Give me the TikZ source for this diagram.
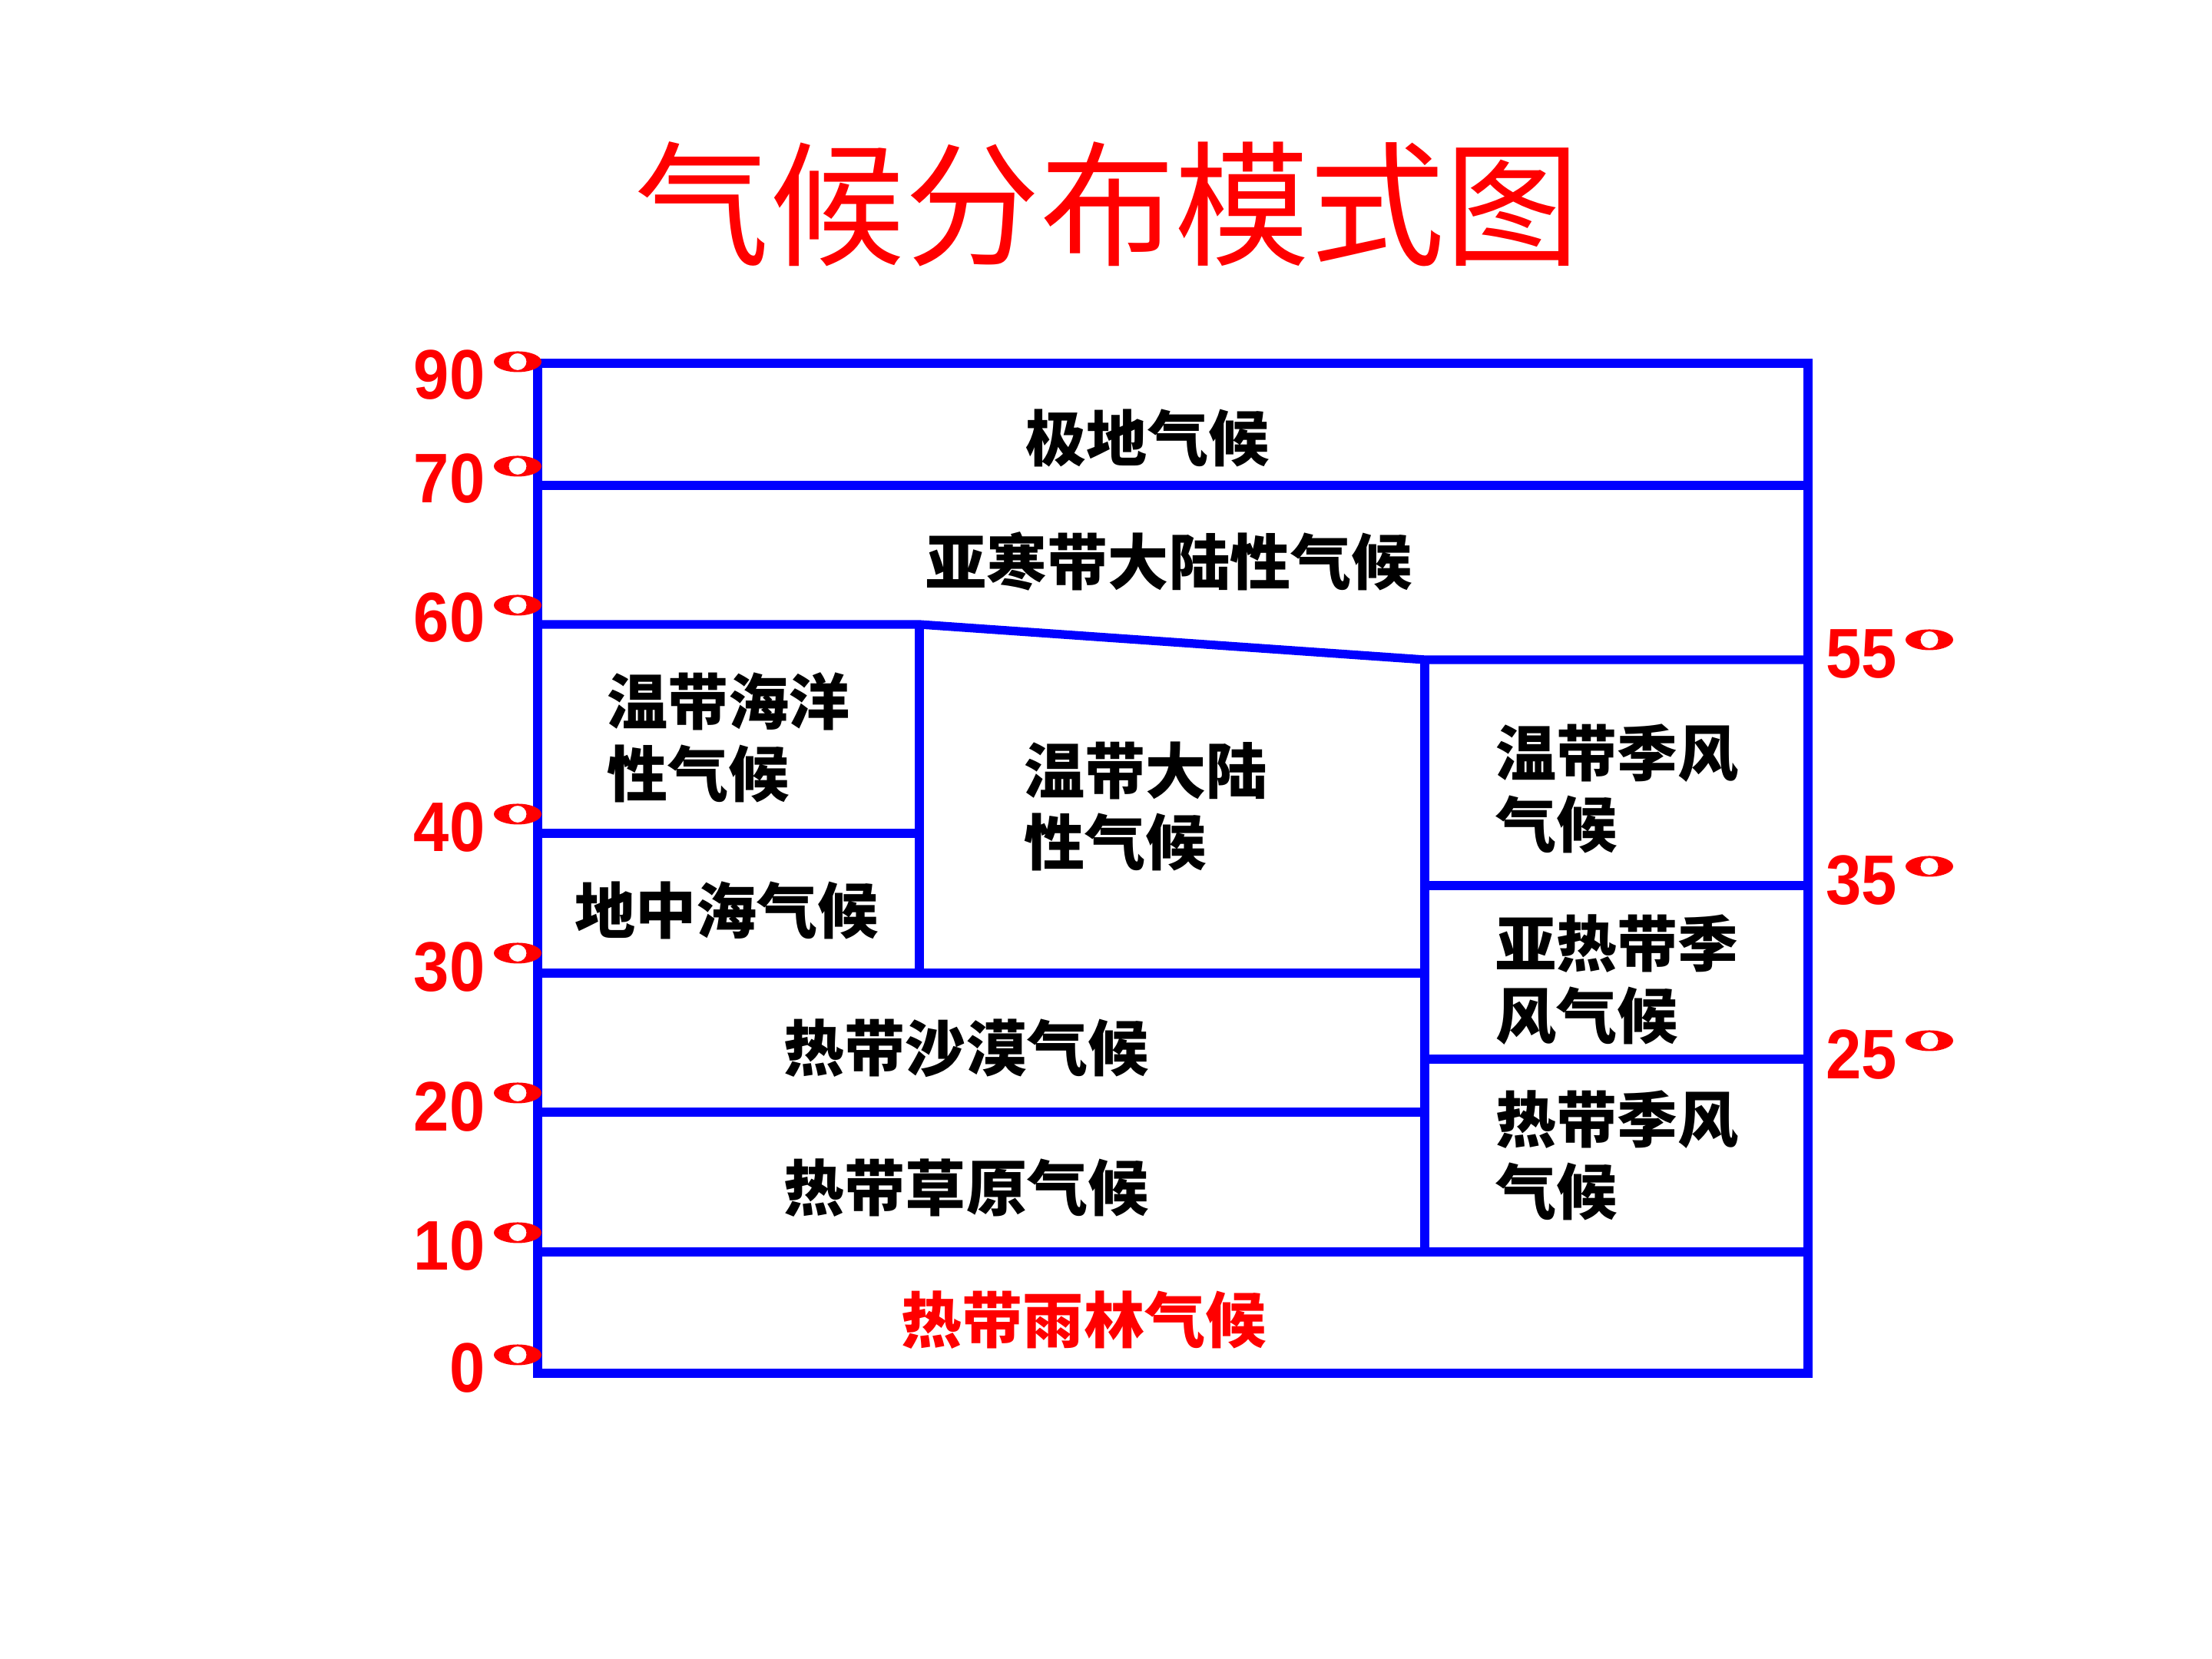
\documentclass[tikz,border=0pt]{standalone}
\usepackage{fontspec}
\usepackage{tikz}
\newfontfamily\cjk{Noto Sans CJK SC}
\newfontfamily\numfont{Liberation Sans}
\tikzstyle{zone} = [draw=blue, line width=3.2pt]
\tikzstyle{zonetxt} = [inner sep=0pt, font=\cjk\bfseries\fontsize{22.5}{26.7}\selectfont]
\tikzstyle{latnum} = [inner sep=0pt, text=red, font=\numfont\bfseries\fontsize{26}{26}\selectfont]
\newcommand{\degmark}[1]{\fill[red, even odd rule] #1 ellipse [x radius=0.31, y radius=0.135] #1 ellipse [x radius=0.115, y radius=0.11];}
\newcommand{\narrow}[1]{\scalebox{0.91}[1]{#1}}

\begin{document}
\begin{tikzpicture}
				\useasboundingbox (0,0) rectangle (28.8,21.6);
				
				\node [inner sep=0pt, text=red, font=\cjk\fontsize{50}{50}\selectfont] (title) at (14.42,18.94) {气候分布模式图};
				
				% frame and belts
				\draw [zone] (7,3.72) rectangle (23.54,16.87);
				\draw [zone] (7,15.28) -- (23.54,15.28);
				\draw [zone] (7,13.47) -- (11.97,13.47) -- (18.55,13.01) -- (23.54,13.01);
				\draw [zone] (11.97,13.47) -- (11.97,8.93);
				\draw [zone] (7,10.75) -- (11.97,10.75);
				\draw [zone] (7,8.93) -- (18.55,8.93);
				\draw [zone] (7,7.12) -- (18.55,7.12);
				\draw [zone] (7,5.30) -- (23.54,5.30);
				\draw [zone] (18.55,13.01) -- (18.55,5.30);
				\draw [zone] (18.55,10.07) -- (23.54,10.07);
				\draw [zone] (18.55,7.81) -- (23.54,7.81);
				
				% latitudes
				\foreach \lat/\ylab/\ydeg in {90/16.72/16.89, 70/15.37/15.53, 60/13.56/13.72, 40/10.83/11.0, 30/9.01/9.19, 20/7.19/7.37, 10/5.38/5.55, 0/3.79/3.96}{
					\node [latnum, anchor=east] (L\lat) at (6.32,\ylab) {\narrow{\lat}};
					\degmark{(6.74,\ydeg)}
				}
				\foreach \lat/\ylab/\ydeg in {55/13.08/13.27, 35/10.14/10.32, 25/7.87/8.05}{
					\node [latnum, anchor=west] (R\lat) at (23.77,\ylab) {\narrow{\lat}};
					\degmark{(25.12,\ydeg)}
				}
				
				\node [zonetxt] (polar) at (14.94,15.89) {极地气候};
				\node [zonetxt] (subarctic) at (15.22,14.29) {亚寒带大陆性气候};
				\node [zonetxt, anchor=west, align=left] (ocean) at (7.90,12.0) {温带海洋\\性气候};
				\node [zonetxt] (medit) at (9.46,9.75) {地中海气候};
				\node [zonetxt, anchor=west, align=left] (contin) at (13.33,11.10) {温带大陆\\性气候};
				\node [zonetxt, anchor=west, align=left] (tempmon) at (19.47,11.33) {温带季风\\气候};
				\node [zonetxt, anchor=west, align=left] (subtropmon) at (19.47,8.84) {亚热带季\\风气候};
				\node [zonetxt, anchor=west, align=left] (tropmon) at (19.47,6.56) {热带季风\\气候};
				\node [zonetxt] (desert) at (12.58,7.95) {热带沙漠气候};
				\node [zonetxt] (savanna) at (12.58,6.13) {热带草原气候};
				\node [zonetxt, text=red] (rainforest) at (14.11,4.41) {热带雨林气候};
				
				\end{tikzpicture}
\end{document}
